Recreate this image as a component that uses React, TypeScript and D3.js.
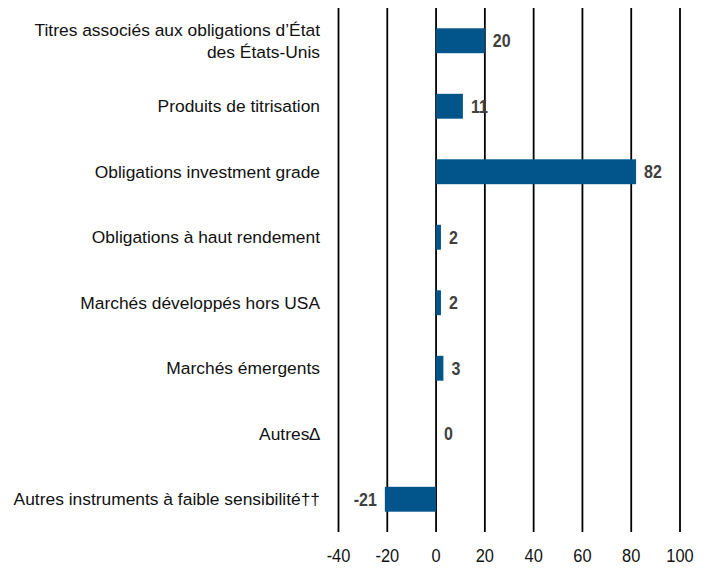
import React from "react";
import * as d3 from "d3";

const categories: string[][] = [
  ["Titres associés aux obligations d’État", "des États-Unis"],
  ["Produits de titrisation"],
  ["Obligations investment grade"],
  ["Obligations à haut rendement"],
  ["Marchés développés hors USA"],
  ["Marchés émergents"],
  ["Autres∆"],
  ["Autres instruments à faible sensibilité††"],
];
const values: number[] = [20, 11, 82, 2, 2, 3, 0, -21];
const ticks: number[] = [-40, -20, 0, 20, 40, 60, 80, 100];

const W = 711;
const H = 568;
const FONT = "'Liberation Sans', Arial, sans-serif";

export default function App() {
  const x = d3.scaleLinear().domain([-40, 100]).range([338.5, 680]);
  const idx = categories.map((_, i) => String(i));
  const y = d3
    .scaleBand<string>()
    .domain(idx)
    .range([8, 532])
    .paddingInner(0.62)
    .paddingOuter(0.31);
  const bw = y.bandwidth();

  return (
    <svg
      width={W}
      height={H}
      style={{ position: "absolute", left: 0, top: 0, background: "#fff" }}
      fontFamily={FONT}
    >
      {ticks.map((t) => (
        <line
          key={"g" + t}
          x1={x(t)}
          x2={x(t)}
          y1={8}
          y2={532}
          stroke="#000"
          strokeWidth={1.8}
        />
      ))}
      {values.map((v, i) => {
        const yc = (y(String(i)) as number) + bw / 2;
        const x0 = x(Math.min(0, v));
        const x1 = x(Math.max(0, v));
        const lx = v < 0 ? x(v) - 8 : x(v) + 8;
        return (
          <g key={"b" + i}>
            {v !== 0 && (
              <rect x={x0} y={yc - bw / 2} width={x1 - x0} height={bw} fill="#02558B" />
            )}
            <text
              transform={`translate(${lx},${yc}) scale(1,1.2)`}
              dy="0.35em"
              textAnchor={v < 0 ? "end" : "start"}
              fontWeight="bold"
              fontSize={16}
              fill="#404040"
            >
              {v}
            </text>
          </g>
        );
      })}
      {categories.map((lines, i) => {
        const yc = (y(String(i)) as number) + bw / 2;
        const lh = 22;
        const start = yc - ((lines.length - 1) * lh) / 2;
        return (
          <text
            key={"c" + i}
            x={320}
            textAnchor="end"
            fontSize={17.4}
            fill="#111"
          >
            {lines.map((l, j) => (
              <tspan key={j} x={320} y={start + j * lh} dy="0.35em">
                {l}
              </tspan>
            ))}
          </text>
        );
      })}
      {ticks.map((t) => (
        <text
          key={"t" + t}
          transform={`translate(${x(t)},555) scale(1,1.14)`}
          dy="0.35em"
          textAnchor="middle"
          fontSize={16.4}
          fill="#111"
        >
          {t}
        </text>
      ))}
    </svg>
  );
}
